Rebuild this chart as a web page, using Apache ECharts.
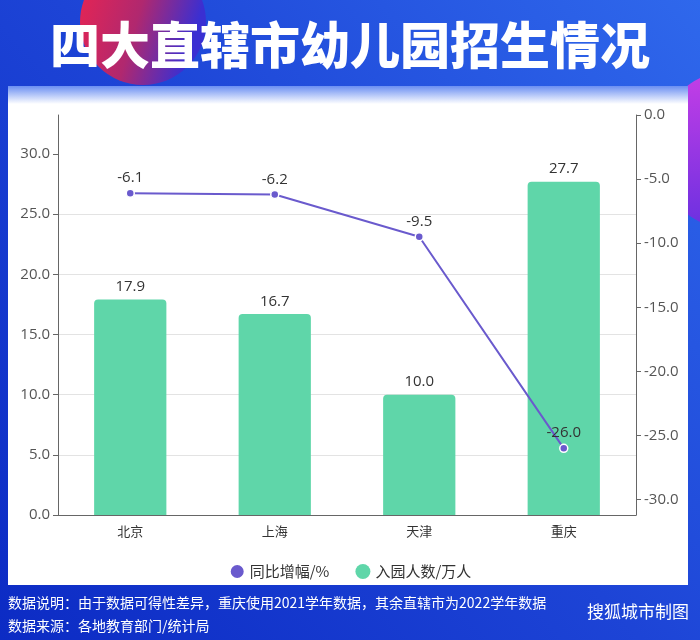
<!DOCTYPE html>
<html>
<head>
<meta charset="utf-8">
<script src="https://cdn.jsdelivr.net/npm/echarts@6/dist/echarts.min.js"></script>
<style>
html,body{margin:0;padding:0;background:#1d45d8;}
#main{width:700px;height:640px;}
</style>
</head>
<body>
<div id="main"></div>
<script>
const titleText = '四大直辖市幼儿园招生情况';
const cities = ['北京', '上海', '天津', '重庆'];
const enrollment = [17.9, 16.7, 10.0, 27.7];
const growth = [-6.1, -6.2, -9.5, -26.0];
const seriesNames = ['同比增幅/%', '入园人数/万人'];
const leftTicks = [0, 5, 10, 15, 20, 25, 30];
const rightTicks = [-30, -25, -20, -15, -10, -5, 0];
const noteLine1 = '数据说明：由于数据可得性差异，重庆使用2021学年数据，其余直辖市为2022学年数据';
const noteLine2 = '数据来源：各地教育部门/统计局';
const credit = '搜狐城市制图';

const FONT = '"Noto Sans CJK SC", "Noto Sans", sans-serif';
const NUMFONT = '"Open Sans", "Noto Sans", sans-serif';
const chart = echarts.init(document.getElementById('main'), null, {renderer: 'canvas'});

const option = {
  animation: false,
  textStyle: {fontFamily: FONT},
  graphic: [
    {type: 'rect', z: -20, shape: {x: 0, y: 0, width: 700, height: 640},
     style: {fill: new echarts.graphic.LinearGradient(1, 0, 0, 1, [
       {offset: 0, color: '#2f68ec'}, {offset: 0.5, color: '#1d44d6'}, {offset: 1, color: '#0c2bc4'}])}},
    {type: 'circle', z: -19, shape: {cx: 143, cy: 22, r: 63},
     style: {fill: new echarts.graphic.LinearGradient(0, 0, 1, 0.3, [
       {offset: 0, color: '#ec2450'}, {offset: 0.55, color: '#b0286f'}, {offset: 1, color: '#3a2fd2'}])}},
    {type: 'circle', z: -19, shape: {cx: 735, cy: 150, r: 80},
     style: {fill: new echarts.graphic.LinearGradient(0, 0, 0, 1, [
       {offset: 0, color: '#c63ee6'}, {offset: 1, color: '#6a30e0'}])}},
    {type: 'rect', z: -18, shape: {x: 8, y: 86, width: 680, height: 499},
     style: {fill: '#ffffff'}},
    {type: 'rect', z: -17, shape: {x: 8, y: 86, width: 680, height: 18},
     style: {fill: new echarts.graphic.LinearGradient(0, 0, 0, 1, [
       {offset: 0, color: '#6b8ff2'}, {offset: 1, color: '#ffffff'}])}},
    {type: 'text', z: 10, x: 350, y: 45,
     style: {text: titleText, fill: '#ffffff', font: '900 50px ' + FONT,
       align: 'center', verticalAlign: 'middle',
       shadowColor: 'rgba(0,0,40,0.35)', shadowBlur: 4, shadowOffsetX: 1, shadowOffsetY: 2}},
    {type: 'text', z: 10, x: 8, y: 603,
     style: {text: noteLine1, fill: '#ffffff', font: '14px ' + FONT, align: 'left', verticalAlign: 'middle'}},
    {type: 'text', z: 10, x: 8, y: 626,
     style: {text: noteLine2, fill: '#ffffff', font: '14px ' + FONT, align: 'left', verticalAlign: 'middle'}},
    {type: 'text', z: 10, x: 689, y: 612,
     style: {text: credit, fill: '#ffffff', font: '17px ' + FONT, align: 'right', verticalAlign: 'middle'}}
  ],
  legend: {
    data: seriesNames,
    bottom: 55,
    left: 'center',
    icon: 'circle',
    itemWidth: 15,
    itemHeight: 15,
    itemGap: 26,
    textStyle: {fontSize: 15, color: '#333', fontFamily: FONT}
  },
  grid: {left: 58, right: 64, top: 115, height: 400, containLabel: false},
  xAxis: {
    type: 'category',
    data: cities,
    axisLine: {lineStyle: {color: '#666'}},
    axisTick: {alignWithLabel: true, lineStyle: {color: '#666'}},
    axisLabel: {fontSize: 13, color: '#333', margin: 10}
  },
  yAxis: [
    {
      type: 'value', min: 0, max: v => v.max * 1.2,
      axisLine: {show: true, lineStyle: {color: '#666'}},
      axisTick: {show: true, customValues: leftTicks, lineStyle: {color: '#666'}},
      axisLabel: {fontSize: 15, color: '#555', fontFamily: NUMFONT, customValues: leftTicks, formatter: v => v.toFixed(1)},
      splitLine: {showMaxLine: false, lineStyle: {color: '#e3e3e3'}}
    },
    {
      type: 'value', max: 0, min: v => v.min * 1.2,
      axisLine: {show: true, lineStyle: {color: '#666'}},
      axisTick: {show: true, customValues: rightTicks, lineStyle: {color: '#666'}},
      axisLabel: {fontSize: 15, color: '#555', fontFamily: NUMFONT, customValues: rightTicks, formatter: v => v.toFixed(1)},
      splitLine: {show: false}
    }
  ],
  series: [
    {
      name: seriesNames[1], type: 'bar', yAxisIndex: 0, data: enrollment,
      barWidth: '50%',
      itemStyle: {color: '#5fd6a9', borderRadius: [4, 4, 0, 0]},
      label: {show: true, position: 'top', fontSize: 15, color: '#333', fontFamily: NUMFONT, formatter: p => p.value.toFixed(1)}
    },
    {
      name: seriesNames[0], type: 'line', yAxisIndex: 1, data: growth,
      symbol: 'circle', symbolSize: 8,
      lineStyle: {color: '#6a5acd', width: 2},
      itemStyle: {color: '#6a5acd', borderColor: '#fff', borderWidth: 1.5},
      label: {show: true, position: 'top', fontSize: 15, color: '#333', fontFamily: NUMFONT, distance: 3, formatter: p => p.value.toFixed(1)},
      z: 3
    }
  ]
};
chart.setOption(option);
</script>
</body>
</html>
